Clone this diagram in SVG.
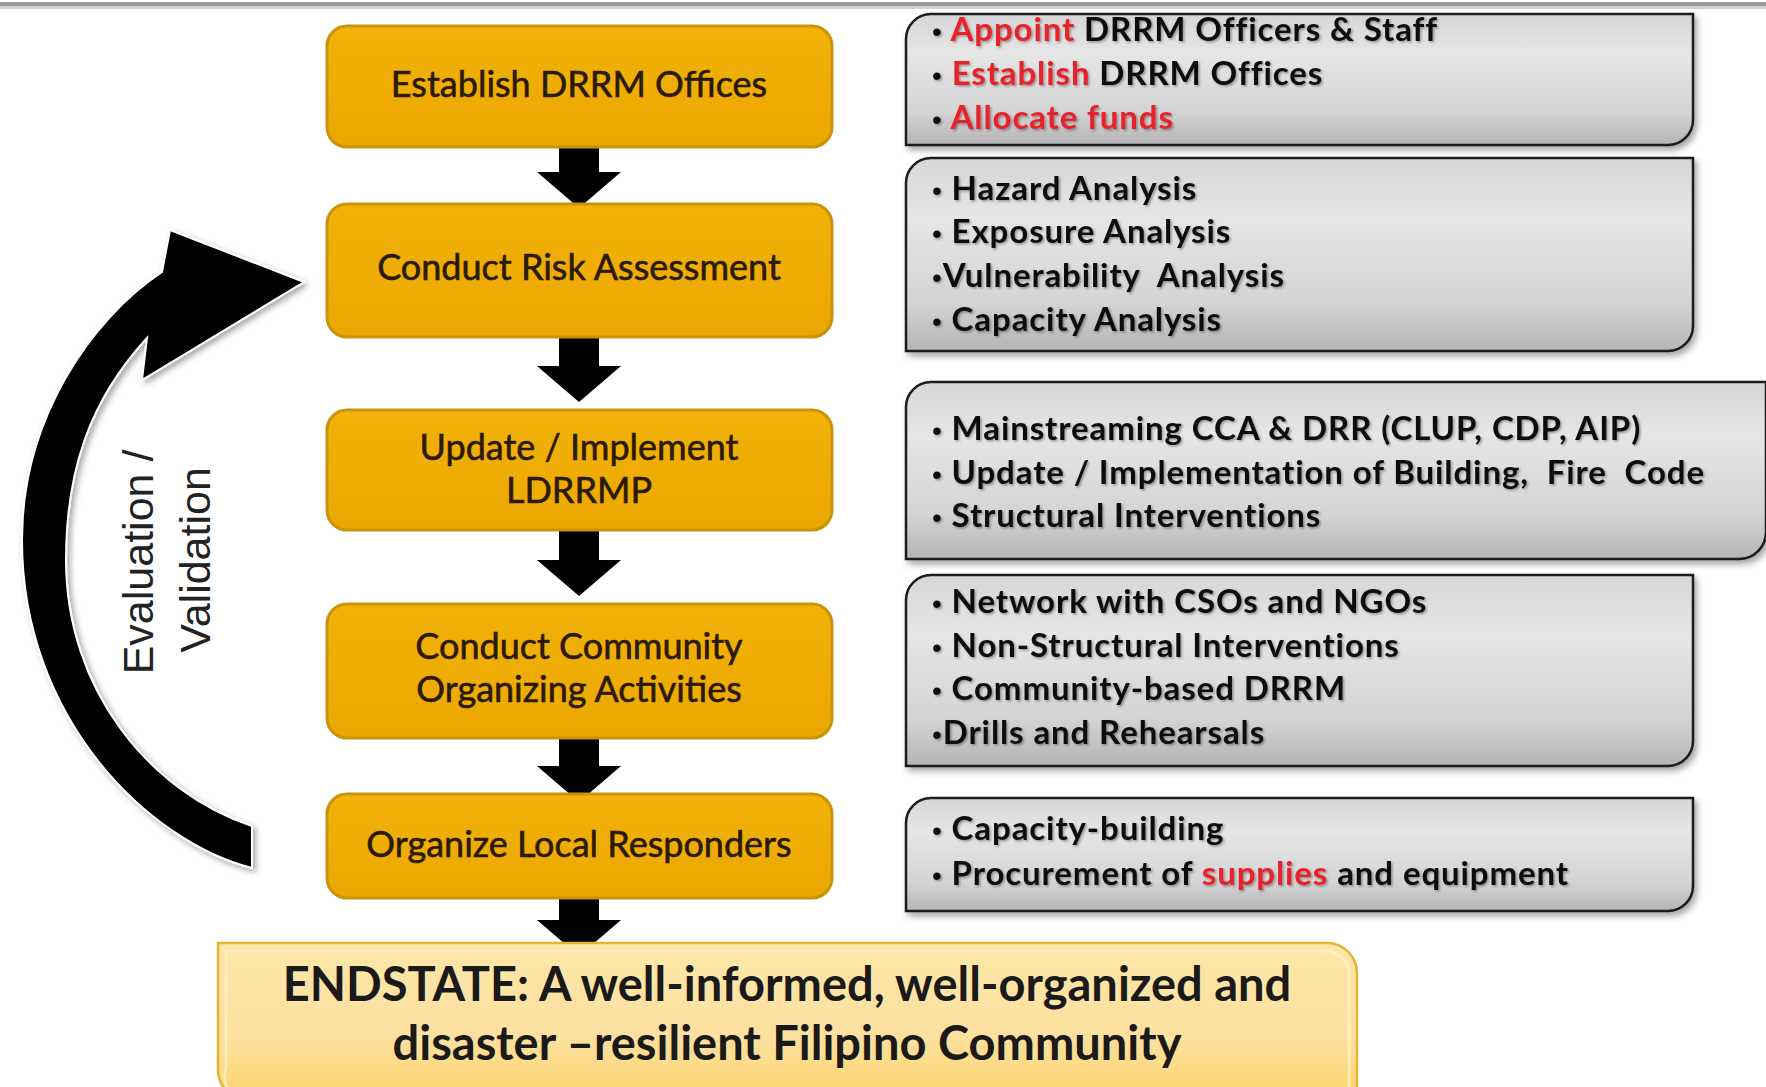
<svg xmlns="http://www.w3.org/2000/svg" width="1766" height="1087" viewBox="0 0 1766 1087">
<defs>
<linearGradient id="grayG" x1="0" y1="0" x2="0" y2="1">
<stop offset="0" stop-color="#d6d6d6"/>
<stop offset="0.3" stop-color="#e6e6e6"/>
<stop offset="0.75" stop-color="#d4d4d4"/>
<stop offset="1" stop-color="#b4b4b4"/>
</linearGradient>
<linearGradient id="orangeG" x1="0" y1="0" x2="0" y2="1">
<stop offset="0" stop-color="#f2b20a"/>
<stop offset="1" stop-color="#eaa700"/>
</linearGradient>
<linearGradient id="endG" x1="0" y1="0" x2="0" y2="1">
<stop offset="0" stop-color="#fde7a8"/>
<stop offset="0.6" stop-color="#fde0a0"/>
<stop offset="1" stop-color="#fbd46a"/>
</linearGradient>
<filter id="boxShadow" x="-5%" y="-10%" width="115%" height="130%">
<feDropShadow dx="3" dy="4" stdDeviation="3" flood-color="#000" flood-opacity="0.35"/>
</filter>
<filter id="txtShadow" x="-5%" y="-30%" width="110%" height="160%">
<feDropShadow dx="1.5" dy="1.5" stdDeviation="1" flood-color="#000" flood-opacity="0.35"/>
</filter>
<filter id="arcShadow" x="-20%" y="-10%" width="140%" height="120%">
<feDropShadow dx="3" dy="3" stdDeviation="3" flood-color="#000" flood-opacity="0.35"/>
</filter>
<path id="downArrow" d="M -20,0 H 20 V 30 H 42 L 0,66 L -42,30 H -20 Z"/>
</defs>
<style>
.obox{fill:url(#orangeG);stroke:#c9930a;stroke-width:3}
.otxt{font-family:Lato,"Liberation Sans",sans-serif;font-size:36px;fill:#2b1a00;stroke:#2b1a00;stroke-width:0.6;text-anchor:middle}
.gbox{fill:url(#grayG);stroke:#1c1c1c;stroke-width:2.5;filter:url(#boxShadow)}
.gtxt{font-family:Lato,"Liberation Sans",sans-serif;font-size:33px;font-weight:bold;letter-spacing:0.9px;fill:#111;filter:url(#txtShadow);white-space:pre}
.bul{font-family:"Liberation Sans",Arial,sans-serif;font-weight:normal;font-size:28px}
.red{fill:#e8232b}
.etxt{font-family:Lato,"Liberation Sans",sans-serif;font-size:47px;font-weight:bold;fill:#1a1a1a;text-anchor:middle}
.vtxt{font-family:"Liberation Sans",Arial,sans-serif;font-size:43px;fill:#222;text-anchor:middle}
</style>
<rect width="1766" height="1087" fill="#ffffff"/>
<rect x="0" y="2" width="1766" height="4" fill="#9a9a9a"/>
<rect x="0" y="6" width="1766" height="3" fill="#d2d2d2"/>

<g id="feedback">
<path d="M 252,868 C 150,842 22,720 22,540 C 22,420 90,320 162,272 L 170,230 L 304,282 L 142,380 L 147,338 C 90,400 66,470 66,560 C 66,690 150,792 252,826 Z" fill="#000" stroke="#ffffff" stroke-width="2" filter="url(#arcShadow)"/>
<text class="vtxt" transform="translate(153,562) rotate(-90)">Evaluation /</text>
<text class="vtxt" transform="translate(210,560) rotate(-90)">Validation</text>
</g>

<g id="connectors" fill="#000">
<use href="#downArrow" x="579" y="142"/>
<use href="#downArrow" x="579" y="336"/>
<use href="#downArrow" x="579" y="530"/>
<use href="#downArrow" x="579" y="736"/>
<use href="#downArrow" x="579" y="890"/>
</g>

<g id="step1">
<rect class="obox" x="327" y="26" width="505" height="121" rx="20"/>
<text class="otxt" x="579" y="97">Establish DRRM Offices</text>
</g>
<g id="step2">
<rect class="obox" x="327" y="204" width="505" height="133" rx="20"/>
<text class="otxt" x="579" y="280">Conduct Risk Assessment</text>
</g>
<g id="step3">
<rect class="obox" x="327" y="410" width="505" height="120" rx="20"/>
<text class="otxt" x="579" y="460">Update / Implement</text>
<text class="otxt" x="579" y="503">LDRRMP</text>
</g>
<g id="step4">
<rect class="obox" x="327" y="604" width="505" height="134" rx="20"/>
<text class="otxt" x="579" y="659">Conduct Community</text>
<text class="otxt" x="579" y="702">Organizing Activities</text>
</g>
<g id="step5">
<rect class="obox" x="327" y="794" width="505" height="104" rx="20"/>
<text class="otxt" x="579" y="857">Organize Local Responders</text>
</g>

<g id="endstate">
<path d="M 218,943 H 1327 A 30 30 0 0 1 1357,973 V 1100 H 248 A 30 30 0 0 1 218,1070 Z" fill="url(#endG)" stroke="#e2b535" stroke-width="2.5"/>
<path d="M 226,951 H 1324 A 24 24 0 0 1 1349,976 V 1100 H 250 A 24 24 0 0 1 226,1068 Z" fill="none" stroke="#fff2c6" stroke-width="3" opacity="0.7"/>
<text class="etxt" x="787" y="1001">ENDSTATE: A well-informed, well-organized and</text>
<text class="etxt" x="787" y="1060">disaster –resilient Filipino Community</text>
</g>

<g id="detail1">
<path class="gbox" d="M 931,14 H 1693 V 120 A 25 25 0 0 1 1668,145 H 906 V 39 A 25 25 0 0 1 931,14 Z"/>
<text class="gtxt" x="932" y="41"><tspan class="bul">•</tspan> <tspan class="red">Appoint</tspan> DRRM Officers &amp; Staff</text>
<text class="gtxt" x="932" y="85"><tspan class="bul">•</tspan> <tspan class="red">Establish</tspan> DRRM Offices</text>
<text class="gtxt" x="932" y="129"><tspan class="bul">•</tspan> <tspan class="red">Allocate funds</tspan></text>
</g>
<g id="detail2">
<path class="gbox" d="M 931,158 H 1693 V 326 A 25 25 0 0 1 1668,351 H 906 V 183 A 25 25 0 0 1 931,158 Z"/>
<text class="gtxt" x="932" y="200"><tspan class="bul">•</tspan> Hazard Analysis</text>
<text class="gtxt" x="932" y="243"><tspan class="bul">•</tspan> Exposure Analysis</text>
<text class="gtxt" x="932" y="287"><tspan class="bul">•</tspan>Vulnerability  Analysis</text>
<text class="gtxt" x="932" y="331"><tspan class="bul">•</tspan> Capacity Analysis</text>
</g>
<g id="detail3">
<path class="gbox" d="M 931,382 H 1766 V 532 A 27 27 0 0 1 1739,559 H 906 V 407 A 25 25 0 0 1 931,382 Z"/>
<text class="gtxt" x="932" y="440"><tspan class="bul">•</tspan> Mainstreaming CCA &amp; DRR (CLUP, CDP, AIP)</text>
<text class="gtxt" x="932" y="484"><tspan class="bul">•</tspan> Update / Implementation of Building,  Fire  Code</text>
<text class="gtxt" x="932" y="527"><tspan class="bul">•</tspan> Structural Interventions</text>
</g>
<g id="detail4">
<path class="gbox" d="M 931,575 H 1693 V 741 A 25 25 0 0 1 1668,766 H 906 V 600 A 25 25 0 0 1 931,575 Z"/>
<text class="gtxt" x="932" y="613"><tspan class="bul">•</tspan> Network with CSOs and NGOs</text>
<text class="gtxt" x="932" y="657"><tspan class="bul">•</tspan> Non-Structural Interventions</text>
<text class="gtxt" x="932" y="700"><tspan class="bul">•</tspan> Community-based DRRM</text>
<text class="gtxt" x="932" y="744"><tspan class="bul">•</tspan>Drills and Rehearsals</text>
</g>
<g id="detail5">
<path class="gbox" d="M 931,798 H 1693 V 886 A 25 25 0 0 1 1668,911 H 906 V 823 A 25 25 0 0 1 931,798 Z"/>
<text class="gtxt" x="932" y="840"><tspan class="bul">•</tspan> Capacity-building</text>
<text class="gtxt" x="932" y="885"><tspan class="bul">•</tspan> Procurement of <tspan class="red">supplies</tspan> and equipment</text>
</g>
</svg>
